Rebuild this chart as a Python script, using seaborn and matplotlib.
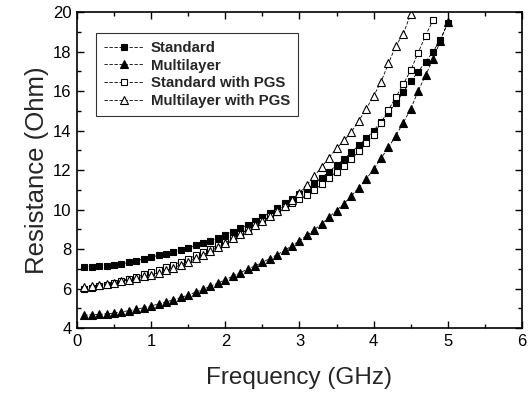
import numpy as np
import pandas as pd
import matplotlib
matplotlib.use("Agg")
import matplotlib.pyplot as plt
from matplotlib.ticker import MultipleLocator
import seaborn as sns

# ------------------------------
# Data
# ------------------------------
freq = [0.1, 0.2, 0.3, 0.4, 0.5, 0.6, 0.7, 0.8, 0.9, 1.0,
        1.1, 1.2, 1.3, 1.4, 1.5, 1.6, 1.7, 1.8, 1.9, 2.0,
        2.1, 2.2, 2.3, 2.4, 2.5, 2.6, 2.7, 2.8, 2.9, 3.0,
        3.1, 3.2, 3.3, 3.4, 3.5, 3.6, 3.7, 3.8, 3.9, 4.0,
        4.1, 4.2, 4.3, 4.4, 4.5, 4.6, 4.7, 4.8, 4.9, 5.0]

standard = [7.07, 7.10, 7.12, 7.15, 7.20, 7.25, 7.32, 7.40, 7.50, 7.60,
            7.68, 7.76, 7.85, 7.95, 8.05, 8.18, 8.30, 8.42, 8.55, 8.72,
            8.88, 9.05, 9.22, 9.42, 9.62, 9.85, 10.08, 10.32, 10.56, 10.80,
            11.05, 11.32, 11.62, 11.92, 12.25, 12.55, 12.90, 13.25, 13.60, 14.00,
            14.45, 14.90, 15.40, 15.95, 16.50, 16.98, 17.48, 17.99, 18.60, 19.45]

multilayer = [4.65, 4.67, 4.69, 4.72, 4.76, 4.82, 4.88, 4.95, 5.03, 5.12,
              5.22, 5.32, 5.43, 5.55, 5.67, 5.82, 5.96, 6.12, 6.28, 6.45,
              6.62, 6.80, 6.98, 7.15, 7.33, 7.52, 7.72, 7.93, 8.17, 8.42,
              8.70, 8.98, 9.28, 9.62, 9.95, 10.30, 10.70, 11.10, 11.55, 12.05,
              12.60, 13.15, 13.75, 14.40, 15.10, 16.00, 16.80, 17.60, 18.55, 19.50]

freq_std_pgs = freq[:48]
standard_pgs = [6.00, 6.05, 6.12, 6.20, 6.30, 6.40, 6.50, 6.60, 6.72, 6.85,
                6.95, 7.07, 7.20, 7.35, 7.50, 7.68, 7.85, 8.02, 8.20, 8.38,
                8.58, 8.78, 8.98, 9.20, 9.42, 9.66, 9.90, 10.13, 10.35, 10.55,
                10.75, 11.00, 11.28, 11.60, 11.92, 12.22, 12.55, 12.95, 13.35, 13.80,
                14.40, 15.05, 15.70, 16.35, 17.05, 17.95, 18.80, 19.60]

freq_ml_pgs = freq[:45]
multilayer_pgs = [6.08, 6.12, 6.17, 6.23, 6.30, 6.37, 6.45, 6.53, 6.62, 6.70,
                  6.80, 6.92, 7.05, 7.20, 7.36, 7.53, 7.70, 7.90, 8.10, 8.32,
                  8.54, 8.76, 8.98, 9.20, 9.42, 9.66, 9.92, 10.20, 10.50, 10.85,
                  11.25, 11.70, 12.17, 12.63, 13.10, 13.50, 13.94, 14.50, 15.10, 15.75,
                  16.47, 17.40, 18.30, 18.90, 19.90]

series = [
    ("Standard", freq, standard, "s", "black"),
    ("Multilayer", freq, multilayer, "^", "black"),
    ("Standard with PGS", freq_std_pgs, standard_pgs, "s", "white"),
    ("Multilayer with PGS", freq_ml_pgs, multilayer_pgs, "^", "white"),
]

# ------------------------------
# Plot
# ------------------------------
sns.set_theme(style="ticks")
plt.rcParams['font.family'] = ['Liberation Sans', 'DejaVu Sans']

fig, ax = plt.subplots(figsize=(5.31, 4.03), dpi=100)
fig.subplots_adjust(left=0.145, right=0.983, top=0.97, bottom=0.186)

for name, x, y, mk, face in series:
    df = pd.DataFrame({"freq": x, "res": y})
    sns.lineplot(data=df, x="freq", y="res", ax=ax, label=name,
                 color="black", lw=0.6, linestyle=(0, (4, 2)),
                 marker=mk, markersize=4.8 if mk == "s" else 5.8,
                 markerfacecolor=face, markeredgecolor="black",
                 markeredgewidth=0.8)

ax.set_xlim(0, 6)
ax.set_ylim(4, 20)
ax.xaxis.set_major_locator(MultipleLocator(1))
ax.xaxis.set_minor_locator(MultipleLocator(0.5))
ax.yaxis.set_major_locator(MultipleLocator(2))
ax.yaxis.set_minor_locator(MultipleLocator(1))
ax.tick_params(which="both", direction="in", top=True, right=True,
               labelsize=12, colors="black")
ax.tick_params(which="major", length=5, width=1, pad=4)
ax.tick_params(which="minor", length=3, width=1)
for sp in ax.spines.values():
    sp.set_linewidth(1.2)
    sp.set_color("black")

ax.set_xlabel("Frequency (GHz)", fontsize=17.5, labelpad=13)
ax.set_ylabel("Resistance (Ohm)", fontsize=18.5, labelpad=3)

leg = ax.legend(loc="upper left", bbox_to_anchor=(0.043, 0.935),
                borderaxespad=0, frameon=True, fancybox=False,
                edgecolor="black", handlelength=2.6, handletextpad=0.5,
                borderpad=0.55, labelspacing=0.25,
                prop={"size": 10.8, "weight": "bold"})
leg.get_frame().set_linewidth(0.8)

plt.savefig("out.png", dpi=100)
